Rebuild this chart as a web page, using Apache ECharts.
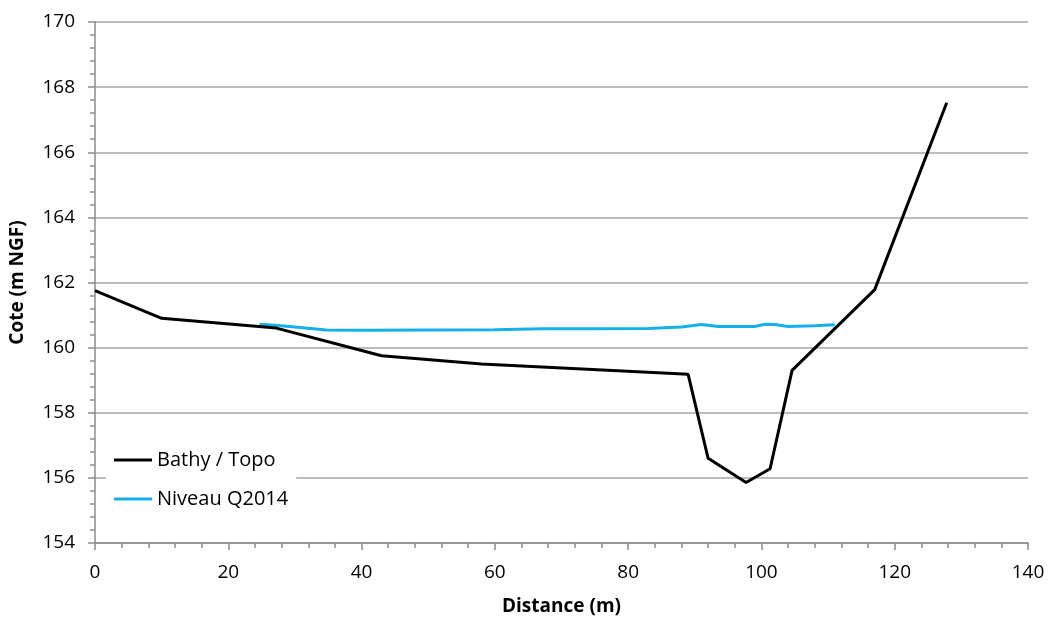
<!DOCTYPE html>
<html><head><meta charset="utf-8">
<script src="https://cdn.jsdelivr.net/npm/echarts@6/dist/echarts.min.js"></script>
<style>html,body{margin:0;padding:0;background:#fff}#c{width:1048px;height:617px}</style>
</head><body><div id="c"></div>
<script>
const bathyTopo = [[0,161.75],[10,160.9],[27.2,160.6],[43,159.75],[58,159.5],[89,159.18],[92,156.6],[97.7,155.86],[101.3,156.28],[104.6,159.3],[117,161.78],[127.8,167.52]];
const niveauQ2014 = [[24.7,160.72],[27,160.69],[30,160.63],[34.7,160.54],[40,160.53],[50,160.54],[60,160.55],[67,160.58],[75,160.58],[83,160.59],[88,160.63],[91,160.71],[93.5,160.65],[99,160.65],[100.5,160.72],[102,160.71],[104,160.65],[108,160.67],[111,160.7]];
const seriesNames = ['Bathy / Topo','Niveau Q2014'];
const xTicks = {min:0,max:140,step:20};
const yTicks = {min:154,max:170,step:2};

const F = '"Open Sans", sans-serif';
const chart = echarts.init(document.getElementById('c'));
chart.setOption({
  animation:false,
  backgroundColor:'#fff',
  grid:{left:95,right:20,top:22,bottom:74,containLabel:false,outerBoundsMode:'none'},
  legend:{
    orient:'vertical', left:106, top:444, itemWidth:38, itemHeight:3, itemGap:19,
    backgroundColor:'#fff', padding:[6,8,6,8],
    textStyle:{fontFamily:F,fontSize:20,color:'#000'},
    data:seriesNames.map(n=>({name:n,icon:'rect'}))
  },
  xAxis:{
    type:'value', min:xTicks.min, max:xTicks.max, interval:xTicks.step,
    name:'Distance (m)', nameLocation:'middle', nameGap:54,
    nameTextStyle:{fontFamily:F,fontSize:19,fontWeight:'bold',color:'#000'},
    axisLine:{show:true,onZero:false,lineStyle:{color:'#8c8c8c',width:1.5}},
    axisTick:{show:true,length:7,lineStyle:{color:'#8c8c8c',width:1.5}},
    minorTick:{show:true,splitNumber:5,length:5,lineStyle:{color:'#8c8c8c',width:1.5}},
    axisLabel:{fontFamily:F,fontSize:19,color:'#000',margin:20},
    splitLine:{show:false}
  },
  yAxis:{
    type:'value', min:yTicks.min, max:yTicks.max, interval:yTicks.step,
    name:'Cote (m NGF)', nameLocation:'middle', nameGap:68,
    nameTextStyle:{fontFamily:F,fontSize:19,fontWeight:'bold',color:'#000'},
    axisLine:{show:true,onZero:false,lineStyle:{color:'#8c8c8c',width:1.5}},
    axisTick:{show:true,length:7,lineStyle:{color:'#8c8c8c',width:1.5}},
    minorTick:{show:true,splitNumber:5,length:5,lineStyle:{color:'#8c8c8c',width:1.5}},
    axisLabel:{fontFamily:F,fontSize:19,color:'#000',margin:20},
    splitLine:{show:true,lineStyle:{color:'#a6a6a6',width:1.5}}
  },
  series:[
    {name:seriesNames[0],type:'line',data:bathyTopo,showSymbol:false,symbol:'none',
     lineStyle:{color:'#000',width:3},itemStyle:{color:'#000'},z:3},
    {name:seriesNames[1],type:'line',data:niveauQ2014,showSymbol:false,symbol:'none',
     lineStyle:{color:'#14b0ea',width:3},itemStyle:{color:'#14b0ea'},z:2}
  ]
});
</script></body></html>
